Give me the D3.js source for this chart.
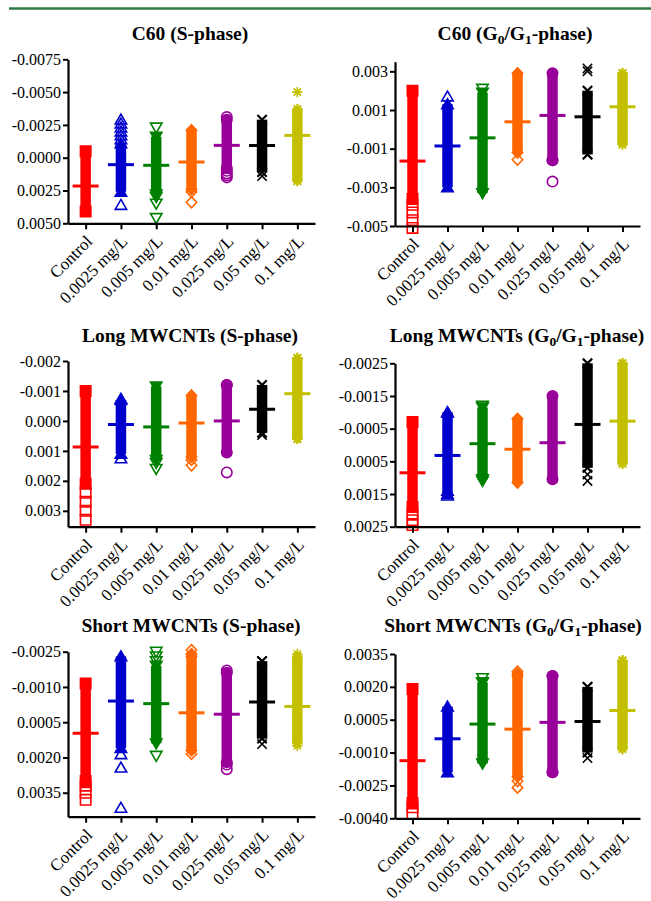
<!DOCTYPE html>
<html>
<head>
<meta charset="utf-8">
<script src="https://cdn.jsdelivr.net/npm/d3@7"></script>
<style>
  html, body { margin: 0; padding: 0; background: #fff; }
  svg { display: block; }
</style>
</head>
<body>
<svg id="chart" width="651" height="901"></svg>
<script>
// ---------------- DATA ----------------
const categories = ["Control", "0.0025 mg/L", "0.005 mg/L", "0.01 mg/L", "0.025 mg/L", "0.05 mg/L", "0.1 mg/L"];
const groupColors = ["#ff0000", "#0000cc", "#008000", "#ff6600", "#990099", "#000000", "#c4c000"];
const groupShapes = ["square", "triUp", "triDown", "diamond", "circle", "x", "asterisk"];

const panelTitles = [
  ["C60 (S-phase)"],
  ["C60 (G", "0", "/G", "1", "-phase)"],
  ["Long MWCNTs (S-phase)"],
  ["Long MWCNTs (G", "0", "/G", "1", "-phase)"],
  ["Short MWCNTs (S-phase)"],
  ["Short MWCNTs (G", "0", "/G", "1", "-phase)"]
];

// y tick values per panel
const ticksC60S   = [-0.0075, -0.0050, -0.0025, 0.0000, 0.0025, 0.0050];
const ticksC60G   = [0.003, 0.001, -0.001, -0.003, -0.005];
const ticksLongS  = [-0.002, -0.001, 0.000, 0.001, 0.002, 0.003];
const ticksLongG  = [-0.0025, -0.0015, -0.0005, 0.0005, 0.0015, 0.0025];
const ticksShortS = [-0.0025, -0.0010, 0.0005, 0.0020, 0.0035];
const ticksShortG = [0.0035, 0.0020, 0.0005, -0.0010, -0.0025, -0.0040];

// group means (horizontal bars)
const meanC60S   = [0.00216, 0.00053, 0.00058, 0.00033, -0.00094, -0.00093, -0.00170];
const meanC60G   = [-0.00164, -0.00086, -0.00044, 0.00039, 0.00072, 0.00065, 0.00117];
const meanLongS  = [0.00087, 0.00012, 0.00020, 0.00007, 0.00000, -0.00039, -0.00091];
const meanLongG  = [0.00085, 0.00032, -0.00004, 0.00013, -0.00007, -0.00063, -0.00073];
const meanShortS = [0.00097, -0.00040, -0.00029, 0.00010, 0.00016, -0.00036, -0.00017];
const meanShortG = [-0.00137, -0.00037, 0.00030, 0.00007, 0.00038, 0.00042, 0.00092];

// extent of the densely overlapping points [low, high] per group
const denseC60S   = [[-0.0005, 0.0041], [-0.0011, 0.0026], [-0.0016, 0.0028], [-0.0021, 0.0024], [-0.0029, 0.0008], [-0.0029, 0.0011], [-0.0037, 0.0017]];
const denseC60G   = [[-0.0036, 0.0020], [-0.0030, 0.0013], [-0.0033, 0.0019], [-0.0012, 0.0029], [-0.0016, 0.0029], [-0.0013, 0.0020], [-0.0007, 0.0029]];
const denseLongS  = [[-0.0010, 0.0021], [-0.0007, 0.0011], [-0.00115, 0.0013], [-0.00085, 0.0012], [-0.0012, 0.00105], [-0.0012, 0.0004], [-0.0021, 0.0006]];
const denseLongG  = [[-0.0007, 0.0019], [-0.0010, 0.0015], [-0.00115, 0.00105], [-0.0008, 0.00115], [-0.0015, 0.00105], [-0.0025, 0.0007], [-0.0025, 0.00055]];
const denseShortS = [[-0.00115, 0.0030], [-0.0023, 0.0016], [-0.0019, 0.0014], [-0.0024, 0.0017], [-0.0016, 0.0022], [-0.0021, 0.0012], [-0.0023, 0.0014]];
const denseShortG = [[-0.0033, 0.0019], [-0.0019, 0.0011], [-0.0015, 0.0022], [-0.0021, 0.0026], [-0.0019, 0.0025], [-0.0010, 0.0020], [-0.0008, 0.0032]];

// individually visible points per group
const ptsC60S   = [[], [-0.0029, -0.0026, -0.0023, -0.0020, -0.0017, -0.0014, 0.0036], [-0.0023, 0.0030, 0.0035, 0.0046], [0.0026, 0.0034], [-0.0031, 0.0010, 0.0012, 0.00135, 0.0015], [0.0014], [-0.0050, 0.0018]];
const ptsC60G   = [[-0.0039, -0.0043, -0.0047, -0.0051], [0.0017], [0.0021], [-0.00157], [-0.0016, -0.0027], [0.0030, 0.00315, -0.0013], [-0.0008, 0.0029]];
const ptsLongS  = [[0.0024, 0.0027, 0.0030, 0.0033], [-0.00074, 0.00125], [0.0014, 0.0016], [0.0013, 0.00148], [-0.0012, 0.00172], [0.00047], [-0.0021, 0.0006]];
const ptsLongG  = [[0.0021, 0.0023, 0.00245], [-0.0010, 0.0014, 0.00155], [-0.0012, 0.0011], [], [], [0.0009, 0.0011], [-0.0025, 0.00058]];
const ptsShortS = [[0.0032, 0.0035, 0.0038], [0.00186, 0.00243, 0.00414], [-0.0025, -0.0023, -0.0021, 0.00193], [-0.00257, -0.0023, 0.00185], [-0.0017, 0.0023, 0.0025], [-0.0021, 0.00143], [-0.0024, 0.0015]];
const ptsShortG = [[-0.0035, -0.0038], [], [0.0024, 0.0022], [0.0027, 0.0025, -0.0023, -0.0026], [0.0025, -0.0019], [0.0020, -0.00125], [0.0032, -0.00085]];

const yDomains = [[-0.0075, 0.005], [-0.005, 0.0035], [-0.002, 0.00353], [-0.0025, 0.0025], [-0.0025, 0.00452], [-0.004, 0.0035]];
const yFormats = [".4f", ".3f", ".3f", ".4f", ".4f", ".4f"];
const yInverted = [true, false, true, true, true, false];

// ---------------- LAYOUT ----------------
const layout = [
  { ax: 68,  xEnd: 315, top: 59.3,  bottom: 223.3, tx: 190, ty: 40 },
  { ax: 395, xEnd: 640, top: 61.7,  bottom: 226,   tx: 515, ty: 40 },
  { ax: 68,  xEnd: 315, top: 361,   bottom: 526.7, tx: 190, ty: 342 },
  { ax: 395, xEnd: 640, top: 363.3, bottom: 526.7, tx: 517, ty: 342 },
  { ax: 68,  xEnd: 315, top: 651.7, bottom: 816.7, tx: 191, ty: 632 },
  { ax: 395, xEnd: 640, top: 654,   bottom: 818.3, tx: 513, ty: 632 }
];

const panels = [
  { ticks: ticksC60S,   mean: meanC60S,   dense: denseC60S,   pts: ptsC60S },
  { ticks: ticksC60G,   mean: meanC60G,   dense: denseC60G,   pts: ptsC60G },
  { ticks: ticksLongS,  mean: meanLongS,  dense: denseLongS,  pts: ptsLongS },
  { ticks: ticksLongG,  mean: meanLongG,  dense: denseLongG,  pts: ptsLongG },
  { ticks: ticksShortS, mean: meanShortS, dense: denseShortS, pts: ptsShortS },
  { ticks: ticksShortG, mean: meanShortG, dense: denseShortG, pts: ptsShortG }
];

const FONT = '"Liberation Serif"';
const R = 5.2;        // marker half-size
const COLW = 10.5;    // dense column width
const MEANW = 26;     // mean bar width

function shapePath(shape, r) {
  switch (shape) {
    case "square":  return `M${-r},${-r}H${r}V${r}H${-r}Z`;
    case "triUp":   return `M0,${-r*1.05}L${r*1.1},${r*0.85}L${-r*1.1},${r*0.85}Z`;
    case "triDown": return `M0,${r*1.05}L${r*1.1},${-r*0.85}L${-r*1.1},${-r*0.85}Z`;
    case "diamond": return `M0,${-r*1.05}L${r*1.0},0L0,${r*1.05}L${-r*1.0},0Z`;
    case "circle":  return `M${r},0A${r},${r} 0 1,1 ${-r},0A${r},${r} 0 1,1 ${r},0Z`;
    case "x":       { const q = r*0.9; return `M${-q},${-q}L${q},${q}M${q},${-q}L${-q},${q}`; }
    case "asterisk": {
      const q = r*0.72; return `M0,${-r}V${r}M${-r},0H${r}M${-q},${-q}L${q},${q}M${q},${-q}L${-q},${q}`;
    }
  }
}

const svg = d3.select("#chart");

// top rule
svg.append("line").attr("x1", 9).attr("x2", 651).attr("y1", 8.5).attr("y2", 8.5)
  .attr("stroke", "#2f7a47").attr("stroke-width", 2.5);

panels.forEach((p, i) => {
  const L = layout[i];
  const g = svg.append("g");

  const x = d3.scalePoint().domain(categories).range([L.ax, L.xEnd]).padding(0.5);
  const y = d3.scaleLinear().domain(yDomains[i])
    .range(yInverted[i] ? [L.top, L.bottom] : [L.bottom, L.top]);

  // title
  const t = g.append("text").attr("x", L.tx).attr("y", L.ty)
    .attr("text-anchor", "middle").style("font-family", FONT)
    .attr("font-weight", "bold").attr("font-size", 19.5).attr("fill", "#000");
  panelTitles[i].forEach((part, k) => {
    const isSub = panelTitles[i].length > 1 && (k === 1 || k === 3);
    const ts = t.append("tspan").text(part);
    if (isSub) ts.attr("font-size", 13.5).attr("dy", 4);
    else if (k > 0) ts.attr("dy", -4);
  });

  // data groups
  categories.forEach((c, j) => {
    const cx = x(c);
    const col = groupColors[j];
    const shp = groupShapes[j];
    const [lo, hi] = p.dense[j];
    const gg = g.append("g");
    const yA = Math.min(y(lo), y(hi)), yB = Math.max(y(lo), y(hi));
    // dense column of overlapping points
    gg.append("rect").attr("x", cx - COLW/2).attr("width", COLW)
      .attr("y", yA).attr("height", yB - yA).attr("fill", col);
    // dense ends
    [lo, hi].forEach(v => {
      const strokeOnly = (shp === "x" || shp === "asterisk");
      gg.append("path").attr("d", shapePath(shp, R))
        .attr("transform", `translate(${cx},${y(v)})`)
        .attr("fill", strokeOnly ? "none" : col)
        .attr("stroke", col).attr("stroke-width", strokeOnly ? 2.2 : 1.6);
    });
    // individual points
    p.pts[j].forEach(v => {
      gg.append("path").attr("d", shapePath(shp, R))
        .attr("transform", `translate(${cx},${y(v)})`)
        .attr("fill", "none").attr("stroke", col).attr("stroke-width", 1.6);
    });
    // mean bar
    gg.append("line").attr("x1", cx - MEANW/2).attr("x2", cx + MEANW/2)
      .attr("y1", y(p.mean[j])).attr("y2", y(p.mean[j]))
      .attr("stroke", col).attr("stroke-width", 3);
  });

  // axes
  const fmt = d3.format(yFormats[i]);
  const yAxis = g.append("g").attr("transform", `translate(${L.ax},0)`)
    .call(d3.axisLeft(y).tickValues(p.ticks).tickFormat(v => fmt(v).replace("−", "-")).tickSize(5).tickSizeOuter(0));
  const xAxis = g.append("g").attr("transform", `translate(0,${L.bottom})`)
    .call(d3.axisBottom(x).tickSize(6).tickSizeOuter(0));

  [yAxis, xAxis].forEach(a => {
    a.attr("font-family", null);
    a.select(".domain").attr("stroke", "#000").attr("stroke-width", 2.2);
    a.selectAll(".tick line").attr("stroke", "#000").attr("stroke-width", 2);
    a.selectAll("text").style("font-family", FONT).attr("fill", "#000");
  });
  yAxis.selectAll("text").attr("x", -7).attr("font-size", 16);
  xAxis.selectAll("text")
    .attr("text-anchor", "end").attr("x", 0).attr("y", 0).attr("dy", "0.35em")
    .attr("transform", "translate(3,15) rotate(-45)").attr("font-size", 17);
});
</script>
</body>
</html>
